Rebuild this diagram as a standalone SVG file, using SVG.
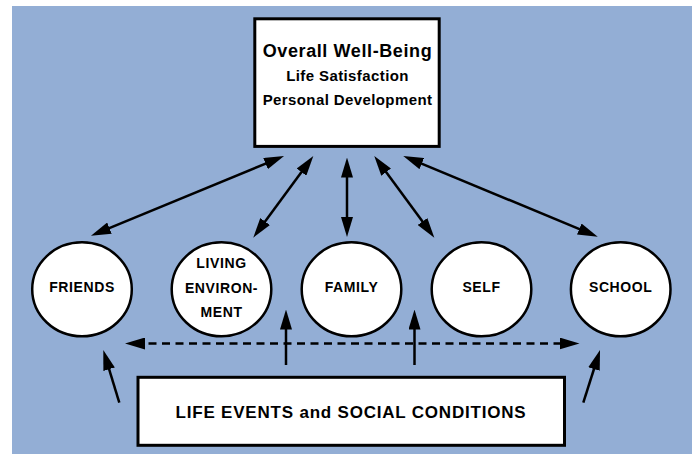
<svg xmlns="http://www.w3.org/2000/svg" width="697" height="454" viewBox="0 0 697 454">
  <style>
    .bg { fill: #93aed5; }
    .box { fill: #ffffff; stroke: #000000; stroke-width: 3; }
    .node { fill: #ffffff; stroke: #000000; stroke-width: 2.5; }
    .t { font-family: "Liberation Sans", Arial, Helvetica, sans-serif; font-weight: bold; fill: #000000; text-anchor: middle; }
    .title { font-size: 18px; letter-spacing: 0.6px; }
    .sub { font-size: 15px; letter-spacing: 0.4px; }
    .lbl { font-size: 14px; letter-spacing: 0.6px; }
    .big { font-size: 17px; letter-spacing: 0.8px; }
    .conn { stroke: #000000; stroke-width: 2.5; fill: none; }
    .dash { stroke-dasharray: 8 5.5; }
  </style>
  <defs>
    <marker id="ah" markerUnits="userSpaceOnUse" markerWidth="20" markerHeight="12" refX="10" refY="6" orient="auto-start-reverse" viewBox="0 0 20 12">
      <path d="M0,0 L20,6 L0,12 z" fill="#000000"/>
    </marker>
  </defs>

  <rect class="bg" x="12" y="6" width="680" height="448"/>

  <g id="connectors">
    <line class="conn" x1="274.8" y1="159.8" x2="100.2" y2="231.9" marker-start="url(#ah)" marker-end="url(#ah)"/>
    <line class="conn" x1="307.4" y1="164.1" x2="259.2" y2="229.6" marker-start="url(#ah)" marker-end="url(#ah)"/>
    <line class="conn" x1="347" y1="167.5" x2="347" y2="227" marker-start="url(#ah)" marker-end="url(#ah)"/>
    <line class="conn" x1="380.2" y1="164.1" x2="428.4" y2="229.6" marker-start="url(#ah)" marker-end="url(#ah)"/>
    <line class="conn" x1="412.5" y1="159.8" x2="588.5" y2="232.9" marker-start="url(#ah)" marker-end="url(#ah)"/>
    <line class="conn dash" x1="135" y1="343.5" x2="569.5" y2="343.5" marker-start="url(#ah)" marker-end="url(#ah)"/>
    <line class="conn" x1="119.3" y1="402.7" x2="106.2" y2="359.6" marker-end="url(#ah)"/>
    <line class="conn" x1="286" y1="365" x2="286" y2="319.5" marker-end="url(#ah)"/>
    <line class="conn" x1="414.5" y1="365" x2="414.5" y2="319.5" marker-end="url(#ah)"/>
    <line class="conn" x1="583.3" y1="402.7" x2="597" y2="359.5" marker-end="url(#ah)"/>
  </g>

  <g id="well-being">
    <rect class="box" x="254.8" y="18.8" width="184.4" height="127.6"/>
    <text class="t title" x="347.5" y="56.7">Overall Well-Being</text>
    <text class="t sub" x="347.5" y="80.7">Life Satisfaction</text>
    <text class="t sub" x="347.5" y="105">Personal Development</text>
  </g>

  <g id="friends">
    <ellipse class="node" cx="82" cy="289.3" rx="49.8" ry="47"/>
    <text class="t lbl" x="82" y="292.3">FRIENDS</text>
  </g>

  <g id="living-environment">
    <ellipse class="node" cx="221.5" cy="289.3" rx="49.8" ry="47"/>
    <text class="t lbl" x="221.5" y="268.3">LIVING</text>
    <text class="t lbl" x="221.5" y="292.7">ENVIRON-</text>
    <text class="t lbl" x="221.5" y="316.7">MENT</text>
  </g>

  <g id="family">
    <ellipse class="node" cx="351.5" cy="289.3" rx="49.8" ry="47"/>
    <text class="t lbl" x="351.5" y="292.3">FAMILY</text>
  </g>

  <g id="self">
    <ellipse class="node" cx="481.5" cy="289.3" rx="49.8" ry="47"/>
    <text class="t lbl" x="481.5" y="292.3">SELF</text>
  </g>

  <g id="school">
    <ellipse class="node" cx="620.7" cy="289.3" rx="49.8" ry="47"/>
    <text class="t lbl" x="620.7" y="292.3">SCHOOL</text>
  </g>

  <g id="life-events">
    <rect class="box" x="138" y="377.3" width="426.5" height="68" stroke-width="2.5"/>
    <text class="t big" x="351" y="417.7">LIFE EVENTS and SOCIAL CONDITIONS</text>
  </g>
</svg>
